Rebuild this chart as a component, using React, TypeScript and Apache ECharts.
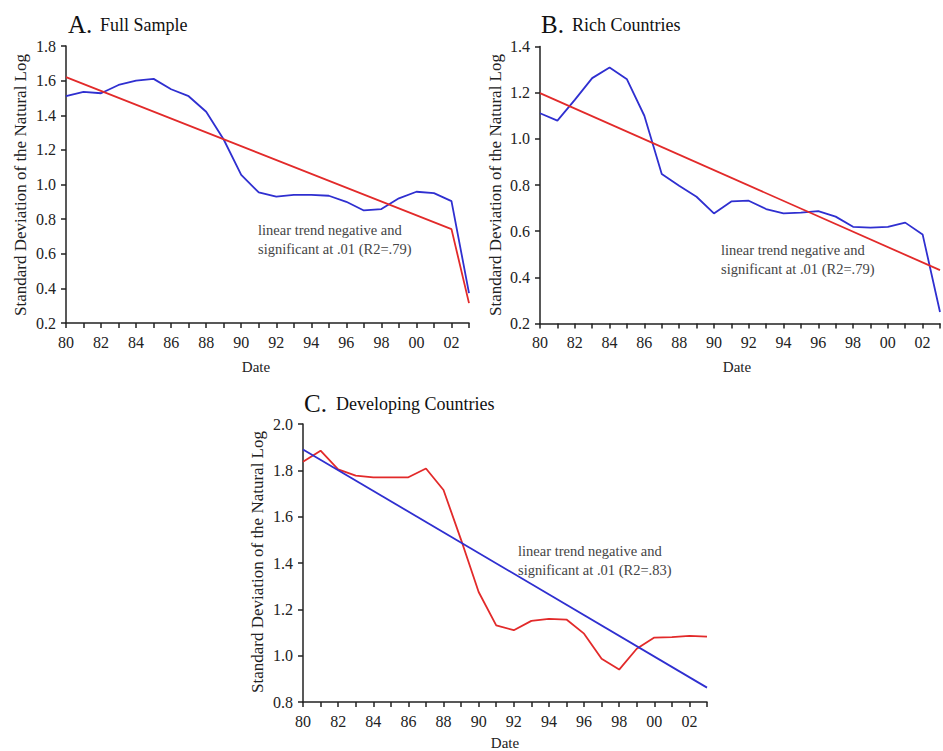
import React, { useEffect, useRef } from "react";
import * as echarts from "echarts";

// ---- data ----
const years = [1980, 1981, 1982, 1983, 1984, 1985, 1986, 1987, 1988, 1989, 1990, 1991, 1992, 1993, 1994, 1995, 1996, 1997, 1998, 1999, 2000, 2001, 2002, 2003];

const fullSample = [1.51, 1.535, 1.527, 1.575, 1.6, 1.61, 1.55, 1.51, 1.42, 1.26, 1.056, 0.954, 0.93, 0.94, 0.94, 0.935, 0.9, 0.85, 0.858, 0.92, 0.958, 0.95, 0.904, 0.373];
const fullTrendYears = [1980, 2002, 2003];
const fullTrend = [1.62, 0.742, 0.315];

const richCountries = [1.111, 1.079, 1.169, 1.263, 1.309, 1.258, 1.1, 0.848, 0.797, 0.749, 0.677, 0.729, 0.732, 0.696, 0.677, 0.68, 0.687, 0.663, 0.619, 0.615, 0.619, 0.637, 0.586, 0.25];
const richTrendYears = [1980, 2003];
const richTrend = [1.198, 0.431];

const developing = [1.837, 1.885, 1.804, 1.777, 1.77, 1.77, 1.77, 1.808, 1.715, 1.5, 1.275, 1.131, 1.11, 1.15, 1.159, 1.156, 1.095, 0.987, 0.94, 1.03, 1.078, 1.08, 1.085, 1.082];
const devTrendYears = [1980, 2003];
const devTrend = [1.89, 0.862];

const yRangeA = [0.2, 1.8];
const yRangeB = [0.2, 1.4];
const yRangeC = [0.8, 2.0];

const panelLetters = ["A.", "B.", "C."];
const panelTitles = ["Full Sample", "Rich Countries", "Developing Countries"];
const yTitle = "Standard Deviation of the Natural Log";
const xTitle = "Date";
const noteA = ["linear trend negative and", "significant at .01 (R2=.79)"];
const noteB = ["linear trend negative and", "significant at .01 (R2=.79)"];
const noteC = ["linear trend negative and", "significant at .01 (R2=.83)"];

const FONT = '"Liberation Serif", "DejaVu Serif", "Times New Roman", serif';
const BLUE = "#2f2fd0";
const RED = "#e22a2a";
const INK = "#222";

const pairs = (xs: number[], ys: number[]) => xs.map((x, i) => [x, ys[i]]);

export default function App() {
  const ref = useRef<HTMLDivElement>(null);

  useEffect(() => {
    if (!ref.current) return;
    const chart = echarts.init(ref.current, null, { renderer: "svg" });

    const grids = [
      { left: 66, top: 46, width: 403, height: 277 },
      { left: 540, top: 46.5, width: 403, height: 277 },
      { left: 303, top: 424, width: 404, height: 278 },
    ];

    const xAxis = (gi: number) => ({
      gridIndex: gi,
      type: "value",
      min: 1980,
      max: 2003,
      interval: 1,
      axisLine: { show: true, onZero: false, lineStyle: { color: INK, width: 1.5 } },
      axisTick: { show: true, length: 5, lineStyle: { color: INK, width: 1.5 } },
      axisLabel: {
        fontFamily: FONT,
        fontSize: 16,
        color: INK,
        margin: 11,
        formatter: (v: number) => (v % 2 === 0 ? String(v % 100).padStart(2, "0") : ""),
      },
      splitLine: { show: false },
    });

    const yAxis = (gi: number, r: number[]) => ({
      gridIndex: gi,
      type: "value",
      min: r[0],
      max: r[1],
      interval: 0.2,
      axisLine: { show: true, onZero: false, lineStyle: { color: INK, width: 1.5 } },
      axisTick: { show: true, length: 5, lineStyle: { color: INK, width: 1.5 } },
      axisLabel: {
        fontFamily: FONT,
        fontSize: 16,
        color: INK,
        margin: 10,
        formatter: (v: number) => v.toFixed(1),
      },
      splitLine: { show: false },
    });

    const line = (gi: number, data: number[][], color: string) => ({
      type: "line",
      xAxisIndex: gi,
      yAxisIndex: gi,
      data,
      showSymbol: false,
      symbol: "none",
      lineStyle: { color, width: 1.8 },
      itemStyle: { color },
      silent: true,
    });

    const txt = (x: number, y: number, text: string, size: number, extra: any = {}) => ({
      type: "text",
      x,
      y,
      silent: true,
      style: {
        text,
        fontFamily: FONT,
        fontSize: size,
        fill: INK,
        textVerticalAlign: "middle",
        verticalAlign: "middle",
        ...extra,
      },
    });

    const titlePos = [
      { x: 68, y: 24, off: 32 },
      { x: 541, y: 24, off: 31 },
      { x: 304, y: 403, off: 32 },
    ];
    const yTitlePos = [
      { x: 20, y: 185 },
      { x: 495, y: 185 },
      { x: 257, y: 562 },
    ];
    const xTitlePos = [
      { x: 256, y: 367 },
      { x: 737, y: 367 },
      { x: 505, y: 743 },
    ];
    const notes = [
      { x: 258, y: 230, lines: noteA },
      { x: 721, y: 250, lines: noteB },
      { x: 518, y: 551, lines: noteC },
    ];

    const graphic: any[] = [];
    for (let i = 0; i < 3; i++) {
      graphic.push(txt(titlePos[i].x, titlePos[i].y, panelLetters[i], 25, { fill: "#111" }));
      graphic.push(txt(titlePos[i].x + titlePos[i].off, titlePos[i].y + 1, panelTitles[i], 18, { fill: "#111" }));
      graphic.push({
        type: "text",
        x: yTitlePos[i].x,
        y: yTitlePos[i].y,
        rotation: Math.PI / 2,
        silent: true,
        style: {
          text: yTitle,
          fontFamily: FONT,
          fontSize: 17,
          fill: INK,
          align: "center",
          textAlign: "center",
          verticalAlign: "middle",
          textVerticalAlign: "middle",
        },
      });
      graphic.push(txt(xTitlePos[i].x, xTitlePos[i].y, xTitle, 15, { align: "center", textAlign: "center" }));
      notes[i].lines.forEach((l, k) => {
        graphic.push(txt(notes[i].x, notes[i].y + k * 18.5, l, 14.5, { fill: "#444" }));
      });
    }

    chart.setOption({
      animation: false,
      backgroundColor: "#fff",
      textStyle: { fontFamily: FONT },
      grid: grids,
      xAxis: [xAxis(0), xAxis(1), xAxis(2)],
      yAxis: [yAxis(0, yRangeA), yAxis(1, yRangeB), yAxis(2, yRangeC)],
      series: [
        line(0, pairs(years, fullSample), BLUE),
        line(0, pairs(fullTrendYears, fullTrend), RED),
        line(1, pairs(years, richCountries), BLUE),
        line(1, pairs(richTrendYears, richTrend), RED),
        line(2, pairs(years, developing), RED),
        line(2, pairs(devTrendYears, devTrend), BLUE),
      ],
      graphic,
    });

    return () => chart.dispose();
  }, []);

  return (
    <div
      ref={ref}
      style={{ position: "fixed", left: 0, top: 0, width: 943, height: 751, background: "#fff" }}
    />
  );
}
